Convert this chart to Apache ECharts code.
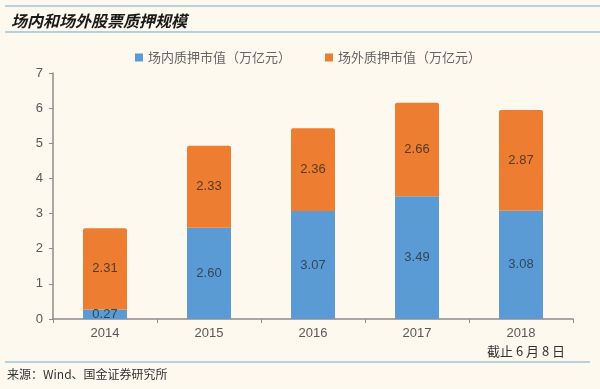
<!DOCTYPE html>
<html><head><meta charset="utf-8">
<script src="https://cdn.jsdelivr.net/npm/echarts@6/dist/echarts.min.js"></script>
<style>html,body{margin:0;padding:0;background:#FDF9EF;}#c{width:600px;height:389px;}</style>
</head><body><div id="c"></div>
<script>
var categories = ['2014','2015','2016','2017','2018'];
var innerValues = [0.27, 2.60, 3.07, 3.49, 3.08];
var outerValues = [2.31, 2.33, 2.36, 2.66, 2.87];
var yTicks = [0,1,2,3,4,5,6,7];
var seriesNames = ['场内质押市值（万亿元）','场外质押市值（万亿元）'];

var chart = echarts.init(document.getElementById('c'));
var cjk = '"Noto Sans CJK SC", sans-serif';
chart.setOption({
  backgroundColor: '#FDF9EF',
  animation: false,
  title: {text: '场内和场外股票质押规模', left: 6, top: 8,
    textStyle: {fontFamily: cjk, fontSize: 16, fontWeight: 'bold', fontStyle: 'italic', color: '#1a1a1a'}},
  legend: {top: 46, left: 130, itemWidth: 8, itemHeight: 8, itemGap: 34,
    icon: 'rect',
    textStyle: {fontFamily: cjk, fontSize: 13, color: '#666'},
    data: seriesNames},
  grid: {left: 53, right: 27, top: 73, bottom: 70},
  xAxis: {type: 'category', data: categories,
    axisLine: {lineStyle: {color: '#8c8c8c', width: 1.5}},
    axisTick: {show: true, length: 4, lineStyle: {color: '#8c8c8c'}},
    axisLabel: {fontFamily: 'Liberation Sans, Arial', fontSize: 13, color: '#595959', margin: 8}},
  yAxis: {type: 'value', min: yTicks[0], max: yTicks[yTicks.length-1], interval: 1,
    axisLine: {show: true, lineStyle: {color: '#8c8c8c', width: 1.5}},
    axisTick: {show: true, length: 4, lineStyle: {color: '#8c8c8c'}},
    splitLine: {show: false},
    axisLabel: {fontFamily: 'Liberation Sans, Arial', fontSize: 13, color: '#595959', margin: 10}},
  series: [
    {name: seriesNames[0], type: 'bar', stack: 's', barWidth: 44, data: innerValues,
     itemStyle: {color: '#5B9BD5'},
     label: {show: true, position: 'inside', formatter: function(p){return p.value.toFixed(2);},
       fontFamily: 'Liberation Sans, Arial', fontSize: 13, color: '#33475b'}},
    {name: seriesNames[1], type: 'bar', stack: 's', barWidth: 44, data: outerValues,
     itemStyle: {color: '#ED7D31', borderRadius: [2,2,0,0]},
     label: {show: true, position: 'inside', formatter: function(p){return p.value.toFixed(2);},
       fontFamily: 'Liberation Sans, Arial', fontSize: 13, color: '#5a3a22'}}
  ],
  graphic: [
    {type: 'line', shape: {x1: 5, y1: 6, x2: 600, y2: 6}, style: {stroke: '#9cc3d9', lineWidth: 1.5}},
    {type: 'line', shape: {x1: 5, y1: 32, x2: 600, y2: 32}, style: {stroke: '#9cc3d9', lineWidth: 1.5}},
    {type: 'line', shape: {x1: 5, y1: 362, x2: 590, y2: 362}, style: {stroke: '#9cc3d9', lineWidth: 1.5}},
    {type: 'text', left: 487, top: 345, style: {text: '截止 6 月 8 日', font: '13px ' + cjk, fill: '#333'}},
    {type: 'text', left: 7, top: 368, style: {text: '来源：Wind、国金证券研究所', font: '12px ' + cjk, fill: '#333'}}
  ]
});
</script></body></html>
